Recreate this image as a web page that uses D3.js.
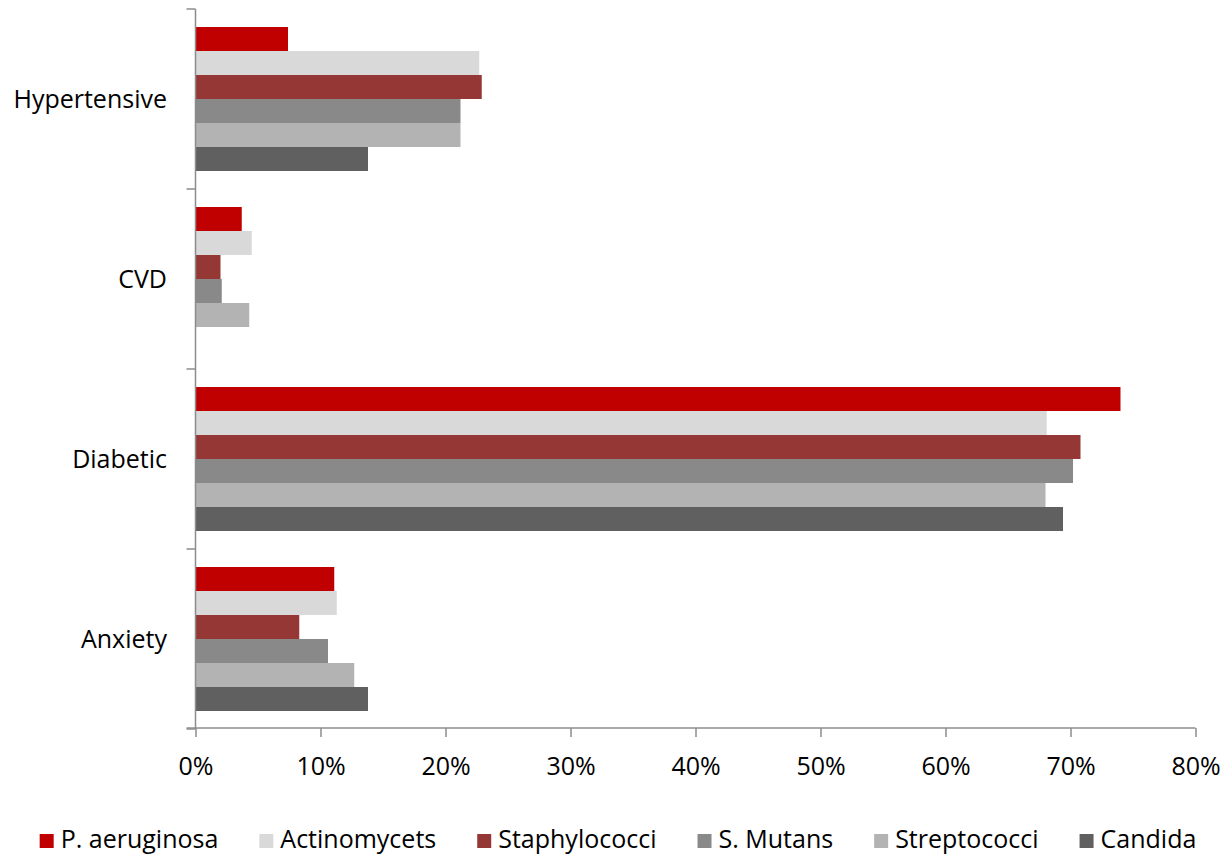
<!DOCTYPE html>
<html>
<head>
<meta charset="utf-8">
<script src="https://cdn.jsdelivr.net/npm/d3@7"></script>
<style>
  html, body { margin: 0; padding: 0; background: #fff; }
  svg { display: block; font-family: "Open Sans", "Noto Sans", sans-serif; }
</style>
</head>
<body>
<svg id="chart" width="1228" height="857"></svg>
<script>
// Prevalence by condition (percent), one array per organism
const categories = ["Hypertensive", "CVD", "Diabetic", "Anxiety"];
const seriesNames = ["P. aeruginosa", "Actinomycets", "Staphylococci", "S. Mutans", "Streptococci", "Candida"];
const pAeruginosa = [7.4, 3.7, 74.0, 11.1];
const actinomycets = [22.7, 4.5, 68.1, 11.3];
const staphylococci = [22.9, 2.0, 70.8, 8.3];
const sMutans = [21.2, 2.1, 70.2, 10.6];
const streptococci = [21.2, 4.3, 68.0, 12.7];
const candida = [13.8, 0, 69.4, 13.8];
const xTicks = [0, 10, 20, 30, 40, 50, 60, 70, 80];

const seriesValues = [pAeruginosa, actinomycets, staphylococci, sMutans, streptococci, candida];
const colors = ["#C00000", "#D9D9D9", "#953735", "#898989", "#B3B3B3", "#606060"];
const axisColor = "#8C8C8C";
const fontSize = 25;

const svg = d3.select("#chart");
const plotLeft = 195.5, plotRight = 1195.5, plotTop = 9, plotBottom = 729;

const x = d3.scaleLinear().domain([0, 80]).range([plotLeft, plotRight]);
const y = d3.scaleBand().domain(categories).range([plotTop, plotBottom]).paddingInner(0.2).paddingOuter(0.1);
const yInner = d3.scaleBand().domain(seriesNames).range([0, y.bandwidth()]).padding(0);

// Bars
const groups = svg.append("g").selectAll("g")
  .data(categories)
  .join("g")
  .attr("transform", d => `translate(0,${y(d)})`);

groups.selectAll("rect")
  .data((c, ci) => seriesNames.map((s, si) => ({ s, si, v: seriesValues[si][ci] })))
  .join("rect")
  .attr("x", x(0) + 0.5)
  .attr("y", d => yInner(d.s))
  .attr("width", d => Math.max(0, x(d.v) - x(0) - 0.5))
  .attr("height", yInner.bandwidth())
  .attr("fill", d => colors[d.si]);

// Category axis (left): band boundaries as ticks
const yAxis = svg.append("g");
const boundaries = d3.range(categories.length + 1).map(i => plotTop + i * y.step());
yAxis.append("line")
  .attr("x1", plotLeft).attr("x2", plotLeft)
  .attr("y1", plotTop).attr("y2", plotBottom)
  .attr("stroke", axisColor).attr("stroke-width", 1.5);
yAxis.selectAll("line.tick")
  .data(boundaries)
  .join("line")
  .attr("class", "tick")
  .attr("x1", plotLeft - 9).attr("x2", plotLeft)
  .attr("y1", d => d).attr("y2", d => d)
  .attr("stroke", axisColor).attr("stroke-width", 1.5);
yAxis.selectAll("text")
  .data(categories)
  .join("text")
  .attr("x", 167)
  .attr("y", d => y(d) + y.bandwidth() / 2)
  .attr("dy", "0.35em")
  .attr("text-anchor", "end")
  .attr("font-size", fontSize)
  .attr("fill", "#000")
  .text(d => d);

// Value axis (bottom)
const xAxis = d3.axisBottom(x)
  .tickValues(xTicks)
  .tickFormat(d => d + "%")
  .tickSize(9)
  .tickPadding(20);
const xg = svg.append("g")
  .attr("transform", `translate(0,${plotBottom - 1})`)
  .call(xAxis);
xg.select(".domain").remove();
xg.append("line")
  .attr("x1", plotLeft - 9).attr("x2", plotRight)
  .attr("y1", 0).attr("y2", 0)
  .attr("stroke", axisColor).attr("stroke-width", 1.5);
xg.selectAll(".tick line").attr("stroke", axisColor).attr("stroke-width", 1.5);
xg.selectAll(".tick text")
  .attr("font-size", fontSize)
  .attr("font-family", "\"Open Sans\", \"Noto Sans\", sans-serif")
  .attr("fill", "#000");

// Legend
const legend = svg.append("g").attr("transform", "translate(0,840)");
const items = legend.selectAll("g")
  .data(seriesNames)
  .join("g");
items.append("rect")
  .attr("width", 14).attr("height", 14)
  .attr("y", -6)
  .attr("fill", (d, i) => colors[i]);
items.append("text")
  .attr("x", 21)
  .attr("dy", "0.33em")
  .attr("font-size", fontSize)
  .attr("fill", "#000")
  .text(d => d);
let cursor = 0;
const offsets = [];
items.each(function () {
  offsets.push(cursor);
  const w = 21 + this.querySelector("text").getComputedTextLength();
  cursor += w + 41;
});
const totalWidth = cursor - 41;
const start = 618 - totalWidth / 2;
items.attr("transform", (d, i) => `translate(${start + offsets[i]},0)`);
</script>
</body>
</html>
